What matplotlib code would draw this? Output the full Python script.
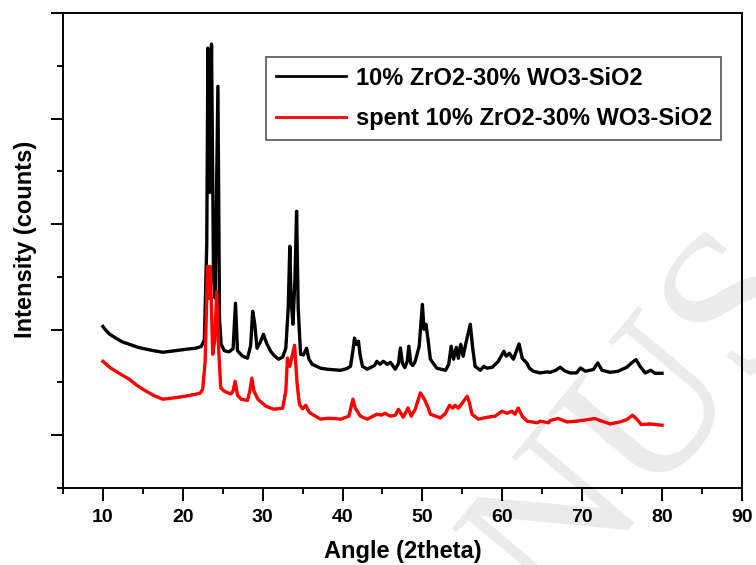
import matplotlib
matplotlib.use("Agg")
import matplotlib.pyplot as plt
from matplotlib.lines import Line2D
from matplotlib.ticker import MultipleLocator, NullFormatter

plt.rcParams['font.family'] = ['Liberation Sans', 'DejaVu Sans']
plt.rcParams['font.weight'] = 'bold'

# fresh catalyst pattern (2theta, counts)
ang_fresh = [10.0, 10.3, 10.8, 11.6, 12.4, 13.3, 14.3, 15.4, 16.4, 17.5, 18.5, 19.5, 20.5, 21.6,
             22.3, 22.7, 23.0, 23.15, 23.35, 23.6, 23.85, 24.05, 24.4, 24.6, 24.8, 25.2, 25.8,
             26.3, 26.6, 26.85, 27.5, 28.1, 28.5, 28.75, 29.0, 29.3, 29.7, 30.1, 30.5, 31.0,
             31.5, 32.0, 32.5, 32.9, 33.2, 33.4, 33.55, 33.8, 34.05, 34.25, 34.45, 34.75, 35.1,
             35.5, 35.8, 36.2, 37.25, 38.1, 39.0, 39.75, 40.5, 41.0, 41.3, 41.5, 41.75, 42.0,
             42.2, 42.5, 43.1, 43.6, 44.0, 44.3, 44.7, 45.1, 45.6, 46.0, 46.6, 47.0, 47.25,
             47.5, 47.8, 48.1, 48.3, 48.55, 48.8, 49.1, 49.6, 50.0, 50.2, 50.45, 50.7, 51.0,
             51.8, 52.9, 53.3, 53.6, 53.9, 54.25, 54.5, 54.8, 55.1, 55.5, 56.0, 56.3, 56.6,
             57.25, 57.7, 58.1, 58.75, 59.5, 60.2, 60.5, 60.9, 61.4, 62.1, 62.5, 63.1, 63.4,
             63.9, 64.75, 65.6, 66.0, 66.7, 67.25, 67.8, 68.5, 69.3, 69.8, 70.4, 71.4, 71.96,
             72.5, 73.5, 74.5, 75.6, 76.2, 76.75, 77.25, 77.9, 78.6, 79.1, 80.0]
cts_fresh = [1030, 1000, 960, 920, 885, 862, 835, 815, 800, 786, 795, 805, 815, 824,
             840, 900, 1800, 3667, 2300, 3705, 1500, 1300, 3305, 1100, 862, 800, 790,
             820, 1250, 800, 748, 730, 850, 1174, 1060, 824, 880, 956, 870, 795,
             750, 720, 740, 824, 1200, 1790, 1297, 1051, 1500, 2121, 1200, 767, 760,
             824, 720, 672, 635, 625, 620, 615, 630, 653, 800, 920, 860, 890,
             760, 653, 625, 644, 660, 700, 672, 700, 672, 690, 625, 680, 827,
             680, 640, 700, 843, 680, 660, 700, 843, 1240, 1004, 1051, 909, 720,
             635, 615, 672, 843, 720, 833, 729, 862, 748, 890, 1051, 824, 653,
             615, 653, 635, 644, 700, 795, 748, 776, 720, 865, 729, 682, 635,
             606, 590, 600, 596, 615, 644, 610, 590, 590, 637, 606, 622, 685,
             615, 596, 606, 644, 685, 716, 653, 590, 615, 587, 587]

# spent catalyst pattern (2theta, counts)
ang_spent = [10.0, 10.3, 10.9, 11.6, 12.4, 13.3, 14.3, 15.4, 16.4, 17.5, 18.5, 19.5, 20.5, 21.6,
             22.2, 22.5, 22.8, 23.1, 23.3, 23.45, 23.75, 24.0, 24.25, 24.5, 24.75, 25.2, 26.0,
             26.3, 26.55, 26.85, 27.3, 28.1, 28.4, 28.65, 28.9, 29.4, 30.4, 31.4, 32.5, 32.9,
             33.1, 33.4, 34.0, 34.3, 34.6, 35.0, 35.4, 35.8, 36.2, 37.25, 38.1, 39.0, 39.75,
             40.8, 41.3, 41.6, 42.25, 43.1, 44.3, 44.9, 45.3, 46.0, 46.6, 47.0, 47.6, 48.2,
             48.6, 49.1, 49.75, 50.25, 50.75, 51.0, 52.25, 52.9, 53.4, 53.8, 54.1, 54.5, 55.1,
             55.6, 55.9, 56.2, 57.0, 58.1, 59.1, 59.96, 60.6, 61.2, 61.6, 62.0, 62.5, 63.1,
             64.4, 64.75, 65.8, 66.0, 67.0, 68.1, 69.3, 70.5, 71.6, 72.25, 73.5, 74.75, 75.6,
             76.3, 76.9, 77.4, 78.5, 80.0]
cts_spent = [700, 680, 640, 606, 570, 530, 470, 417, 375, 341, 350, 360, 372, 388,
             400, 436, 700, 1600, 1300, 1600, 767, 900, 1357, 800, 450, 417, 390,
             420, 511, 380, 341, 330, 420, 540, 420, 341, 275, 246, 256, 417,
             730, 653, 852, 500, 294, 250, 284, 220, 199, 152, 161, 158, 152,
             180, 341, 256, 180, 152, 199, 190, 208, 180, 190, 246, 170, 258,
             180, 246, 401, 341, 256, 199, 164, 208, 284, 256, 284, 256, 316,
             369, 306, 199, 152, 170, 180, 227, 208, 227, 199, 258, 180, 133,
             118, 133, 118, 139, 158, 126, 133, 145, 158, 139, 107, 126, 148,
             189, 148, 101, 107, 95]

labels = ['10% ZrO2-30% WO3-SiO2', 'spent 10% ZrO2-30% WO3-SiO2']
colors = ['black', 'red']

fig = plt.figure(figsize=(7.56, 5.65), dpi=100)
ax = fig.add_axes([0.0833, 0.1363, 0.898, 0.8407])

# faint watermark behind everything
ax.text(0.855, 0.25, 'NUS', transform=fig.transFigure, fontsize=150, family='Liberation Serif',
        fontweight='normal', color='#ebebeb', rotation=50, ha='center', va='center',
        zorder=0, clip_on=False)

ax.plot(ang_fresh, cts_fresh, color=colors[0], lw=2.4, solid_joinstyle='round', zorder=2)
ax.plot(ang_spent, cts_spent, color=colors[1], lw=2.4, solid_joinstyle='round', zorder=3)

ax.set_xlim(5, 90)
ax.set_ylim(-500, 4000)
ax.xaxis.set_major_locator(MultipleLocator(10))
ax.xaxis.set_minor_locator(MultipleLocator(5))
ax.yaxis.set_major_locator(MultipleLocator(1000))
ax.yaxis.set_minor_locator(MultipleLocator(500))
ax.yaxis.set_major_formatter(NullFormatter())
ax.tick_params(which='major', direction='out', length=9, width=1.4, labelsize=14, pad=6)
ax.tick_params(which='minor', direction='out', length=4, width=1.4)
ax.tick_params(top=False, right=False)
for s in ax.spines.values():
    s.set_linewidth(1.4)
ax.set_facecolor('none')
plt.setp(ax.get_xticklabels(), fontweight='bold')

ax.set_xlabel('Angle (2theta)', fontsize=17, fontweight='bold', labelpad=10)
ax.set_ylabel('Intensity (counts)', fontsize=17, fontweight='bold')
ax.yaxis.set_label_coords(-0.038, 0.524)

handles = [Line2D([], [], color=c, lw=2) for c in colors]
leg = ax.legend(handles, labels, loc='upper right', bbox_to_anchor=(0.970, 0.907),
                fontsize=17, frameon=True, fancybox=False, handlelength=3.0,
                handletextpad=0.4, labelspacing=0.75, borderpad=0.4, borderaxespad=0,
                framealpha=1)
leg.get_frame().set_edgecolor('#555555')
leg.get_frame().set_linewidth(1.2)
for t in leg.get_texts():
    t.set_fontweight('bold')

fig.savefig('out.png', dpi=100)
